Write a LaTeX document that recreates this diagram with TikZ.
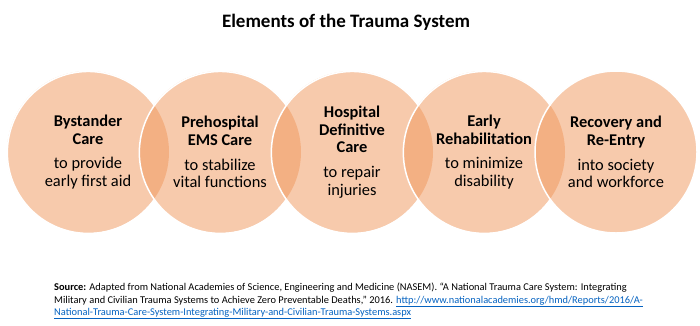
\documentclass[tikz,border=0pt]{standalone}
\usepackage{fontspec}
\setmainfont{Carlito}
\definecolor{peach}{RGB}{241,151,91}
\definecolor{linkblue}{RGB}{5,99,193}
\begin{document}
\begin{tikzpicture}[x=1pt,y=1pt,
  circ/.style={circle,minimum size=162pt,inner sep=0pt,outer sep=0pt,fill=peach,fill opacity=0.5},
  rim/.style={draw=white,line width=1.5pt},
  circtext/.style={align=center,inner sep=0pt,font=\fontsize{16.4}{17.7}\selectfont},
  titletext/.style={inner sep=0pt,font=\fontsize{19}{22}\selectfont\bfseries},
  srctext/.style={align=left,inner sep=0pt,anchor=north west,font=\fontsize{10.4}{12.3}\selectfont}]
\useasboundingbox (0,0) rectangle (700,-325);
\fill[white] (0,0) rectangle (700,-325);
\node[titletext] (title) at (346,-22) {Elements of the Trauma System};
% circles
\node[circ] (c1) at (88,-152) {};
\node[circ] (c2) at (220,-152) {};
\node[circ] (c3) at (352,-152) {};
\node[circ] (c4) at (484,-152) {};
\node[circ] (c5) at (616,-152) {};
% outlines (hidden where a later circle covers them)
\draw[rim] (c1.35.4) arc[start angle=35.4,end angle=324.6,radius=81pt];
\draw[rim] (c2.35.4) arc[start angle=35.4,end angle=324.6,radius=81pt];
\draw[rim] (c3.35.4) arc[start angle=35.4,end angle=324.6,radius=81pt];
\draw[rim] (c4.35.4) arc[start angle=35.4,end angle=324.6,radius=81pt];
\draw[rim] (c5.center) ++(81pt,0) arc[start angle=0,end angle=360,radius=81pt];
% texts
\node[circtext] (t1) at (c1.center) {\textbf{Bystander}\\\textbf{Care}\\[7pt]to provide\\early first aid};
\node[circtext] (t2) at (c2.center) {\textbf{Prehospital}\\\textbf{EMS Care}\\[7pt]to stabilize\\vital functions};
\node[circtext] (t3) at (c3.center) {\textbf{Hospital}\\\textbf{Definitive}\\\textbf{Care}\\[7pt]to repair\\injuries};
\node[circtext] (t4) at (c4.center) {\textbf{Early}\\\textbf{Rehabilitation}\\[7pt]to minimize\\disability};
\node[circtext] (t5) at (c5.center) {\textbf{Recovery and}\\\textbf{Re-Entry}\\[7pt]into society\\and workforce};
% source
\node[srctext] (src) at (54,-283) {\textbf{Source:} Adapted from National Academies of Science, Engineering and Medicine (NASEM). “A National Trauma Care System: Integrating\\
Military and Civilian Trauma Systems to Achieve Zero Preventable Deaths,” 2016. \textcolor{linkblue}{\underline{http://www.nationalacademies.org/hmd/Reports/2016/A-}}\\
\textcolor{linkblue}{\underline{National-Trauma-Care-System-Integrating-Military-and-Civilian-Trauma-Systems.aspx}}};
\end{tikzpicture}
\end{document}
